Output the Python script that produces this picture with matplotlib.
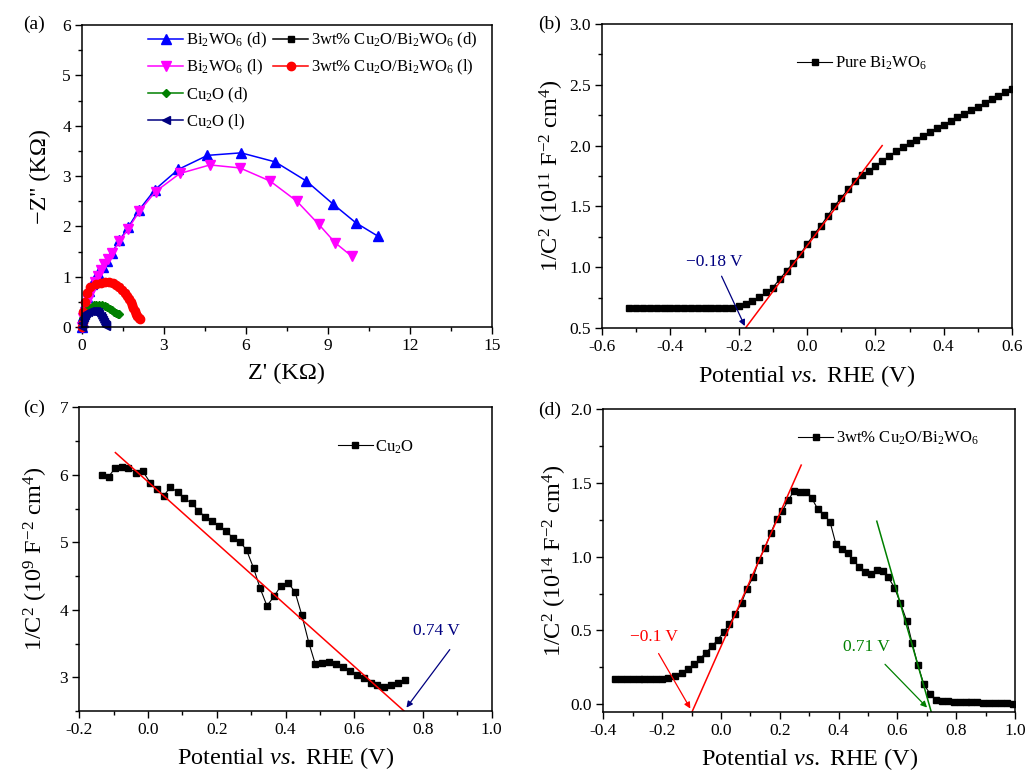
import matplotlib
matplotlib.use("Agg")
import matplotlib.pyplot as plt
from matplotlib.ticker import MultipleLocator

plt.rcParams['font.family'] = ['Liberation Serif', 'DejaVu Serif']
plt.rcParams['mathtext.fontset'] = 'custom'
plt.rcParams['mathtext.rm'] = 'Liberation Serif'
plt.rcParams['mathtext.it'] = 'Liberation Serif:italic'
plt.rcParams['mathtext.bf'] = 'Liberation Serif:bold'
plt.rcParams['axes.unicode_minus'] = False

# ---------------- (a) Nyquist data (kOhm) ----------------
bi_d_x = [0.0, 0.02, 0.05, 0.09, 0.14, 0.20, 0.27, 0.36, 0.47, 0.60, 0.75, 0.90, 1.10, 1.37, 1.69,
          2.08, 2.67, 3.52, 4.59, 5.82, 7.07, 8.21, 9.19, 10.02, 10.84]
bi_d_y = [0.0, 0.10, 0.22, 0.35, 0.48, 0.60, 0.72, 0.85, 0.97, 1.08, 1.20, 1.31, 1.48, 1.72, 1.98,
          2.32, 2.73, 3.13, 3.41, 3.46, 3.28, 2.90, 2.44, 2.07, 1.80]
bi_l_x = [0.0, 0.03, 0.10, 0.16, 0.22, 0.31, 0.39, 0.49, 0.59, 0.70, 0.82, 0.96, 1.10, 1.37, 1.69,
          2.10, 2.69, 3.58, 4.68, 5.78, 6.88, 7.86, 8.66, 9.27, 9.86]
bi_l_y = [0.0, 0.17, 0.30, 0.43, 0.54, 0.66, 0.78, 0.90, 1.01, 1.13, 1.25, 1.36, 1.47, 1.70, 1.95,
          2.30, 2.69, 3.05, 3.22, 3.16, 2.90, 2.50, 2.04, 1.67, 1.41]
cu_d_x = [0.0, 0.02, 0.05, 0.09, 0.14, 0.20, 0.27, 0.35, 0.44, 0.53, 0.63, 0.73, 0.83, 0.93, 1.02,
          1.10, 1.18, 1.25, 1.31, 1.37]
cu_d_y = [0.0, 0.10, 0.18, 0.26, 0.31, 0.34, 0.38, 0.40, 0.43, 0.44, 0.44, 0.43, 0.42, 0.39, 0.36,
          0.33, 0.30, 0.28, 0.26, 0.25]
cu_l_x = [0.0, 0.01, 0.03, 0.06, 0.10, 0.15, 0.21, 0.28, 0.35, 0.43, 0.50, 0.57, 0.63, 0.69, 0.74,
          0.78, 0.81, 0.84, 0.86, 0.87]
cu_l_y = [0.0, 0.08, 0.15, 0.20, 0.24, 0.27, 0.29, 0.31, 0.32, 0.32, 0.31, 0.29, 0.26, 0.22, 0.18,
          0.14, 0.10, 0.06, 0.03, 0.01]
cb_l_x = [0.0, 0.02, 0.05, 0.10, 0.18, 0.30, 0.50, 0.70, 0.85, 1.00, 1.12, 1.25, 1.37, 1.47, 1.56,
          1.65, 1.72, 1.78, 1.83, 1.88, 1.93, 1.98, 2.03, 2.08, 2.12]
cb_l_y = [0.0, 0.10, 0.30, 0.50, 0.68, 0.80, 0.86, 0.88, 0.89, 0.89, 0.87, 0.84, 0.79, 0.74, 0.68,
          0.62, 0.55, 0.49, 0.43, 0.37, 0.31, 0.26, 0.21, 0.18, 0.16]
cb_d_x = [0.0, 0.05, 0.18, 0.50, 0.85, 1.12, 1.37, 1.56, 1.72, 1.83, 1.93, 2.03, 2.10]
cb_d_y = [0.0, 0.30, 0.68, 0.86, 0.89, 0.87, 0.79, 0.68, 0.55, 0.43, 0.31, 0.21, 0.17]

# ---------------- (b) Pure Bi2WO6 Mott-Schottky ----------------
v_b = [-0.52, -0.50, -0.48, -0.46, -0.44, -0.42, -0.40, -0.38, -0.36, -0.34, -0.32, -0.30, -0.28,
       -0.26, -0.24, -0.22, -0.20, -0.18, -0.16, -0.14, -0.12, -0.10, -0.08, -0.06, -0.04, -0.02,
       0.00, 0.02, 0.04, 0.06, 0.08, 0.10, 0.12, 0.14, 0.16, 0.18, 0.20, 0.22, 0.24, 0.26, 0.28,
       0.30, 0.32, 0.34, 0.36, 0.38, 0.40, 0.42, 0.44, 0.46, 0.48, 0.50, 0.52, 0.54, 0.56, 0.58, 0.60]
c_b = [0.665, 0.665, 0.665, 0.665, 0.665, 0.665, 0.665, 0.665, 0.665, 0.665, 0.665, 0.665, 0.665,
       0.665, 0.665, 0.667, 0.678, 0.697, 0.724, 0.751, 0.792, 0.833, 0.902, 0.970, 1.038, 1.107,
       1.189, 1.270, 1.339, 1.420, 1.503, 1.571, 1.639, 1.708, 1.762, 1.790, 1.830, 1.871, 1.912,
       1.953, 1.989, 2.022, 2.049, 2.082, 2.109, 2.145, 2.172, 2.199, 2.235, 2.262, 2.289, 2.314,
       2.350, 2.383, 2.404, 2.437, 2.467]
fit_b_x = [-0.18, 0.22]
fit_b_y = [0.50, 2.00]

# ---------------- (c) Cu2O Mott-Schottky ----------------
v_c = [-0.135, -0.115, -0.096, -0.076, -0.057, -0.034, -0.015, 0.007, 0.026, 0.046, 0.065, 0.087,
       0.106, 0.127, 0.146, 0.166, 0.187, 0.206, 0.228, 0.247, 0.268, 0.287, 0.307, 0.326, 0.346,
       0.367, 0.387, 0.408, 0.428, 0.447, 0.468, 0.487, 0.507, 0.528, 0.548, 0.567, 0.587, 0.608,
       0.629, 0.648, 0.667, 0.687, 0.706, 0.726, 0.747]
c_c = [6.00, 5.97, 6.10, 6.11, 6.10, 6.03, 6.05, 5.88, 5.79, 5.69, 5.82, 5.74, 5.65, 5.58, 5.47,
       5.38, 5.32, 5.24, 5.17, 5.06, 5.01, 4.88, 4.62, 4.32, 4.06, 4.20, 4.36, 4.40, 4.26, 3.93,
       3.51, 3.19, 3.21, 3.22, 3.20, 3.15, 3.09, 3.04, 2.99, 2.92, 2.88, 2.86, 2.88, 2.91, 2.96]
fit_c_x = [-0.095, 0.745]
fit_c_y = [6.33, 2.50]

# ---------------- (d) 3wt% Cu2O/Bi2WO6 Mott-Schottky ----------------
v_d = [-0.36, -0.34, -0.32, -0.30, -0.28, -0.26, -0.24, -0.22, -0.20, -0.18, -0.155, -0.132,
       -0.112, -0.090, -0.070, -0.051, -0.030, -0.011, 0.010, 0.029, 0.049, 0.070, 0.089, 0.110,
       0.129, 0.150, 0.169, 0.189, 0.209, 0.229, 0.248, 0.269, 0.288, 0.309, 0.330, 0.351, 0.371,
       0.391, 0.411, 0.431, 0.450, 0.470, 0.491, 0.510, 0.531, 0.550, 0.569, 0.590, 0.610, 0.632,
       0.650, 0.670, 0.690, 0.712, 0.732, 0.752, 0.772, 0.792, 0.812, 0.832, 0.852, 0.872, 0.892,
       0.912, 0.932, 0.952, 0.972, 0.992]
c_d = [0.172, 0.172, 0.172, 0.172, 0.172, 0.172, 0.172, 0.172, 0.173, 0.176, 0.190, 0.215,
       0.242, 0.271, 0.310, 0.350, 0.393, 0.438, 0.490, 0.547, 0.610, 0.687, 0.784, 0.863,
       0.976, 1.062, 1.157, 1.252, 1.310, 1.383, 1.444, 1.440, 1.440, 1.395, 1.320, 1.281, 1.236,
       1.085, 1.055, 1.022, 0.976, 0.931, 0.897, 0.881, 0.908, 0.904, 0.859, 0.791, 0.687, 0.565,
       0.416, 0.264, 0.136, 0.068, 0.032, 0.025, 0.021, 0.019, 0.017, 0.016, 0.015, 0.013, 0.012,
       0.011, 0.009, 0.008, 0.007, 0.005]
fit_d1_x = [-0.098, 0.273]
fit_d1_y = [-0.05, 1.62]
fit_d2_x = [0.530, 0.715]
fit_d2_y = [1.24, -0.05]

W, H = 1028, 774
fig = plt.figure(figsize=(W / 100, H / 100), dpi=100)


def px_axes(l, t, r, b):
    return fig.add_axes([l / W, 1 - b / H, (r - l) / W, (b - t) / H])


def style(ax, xmaj, xmin, ymaj, ymin):
    ax.xaxis.set_major_locator(MultipleLocator(xmaj))
    ax.xaxis.set_minor_locator(MultipleLocator(xmin))
    ax.yaxis.set_major_locator(MultipleLocator(ymaj))
    ax.yaxis.set_minor_locator(MultipleLocator(ymin))
    ax.tick_params(which='both', direction='out', top=False, right=False, labelsize=12.5,
                   width=1.0, pad=3)
    ax.tick_params(which='major', length=5)
    ax.tick_params(which='minor', length=3)
    for s in ax.spines.values():
        s.set_linewidth(1.1)


def arrow(ax, start, end, color):
    ax.annotate("", xy=end, xytext=start,
                arrowprops=dict(arrowstyle='-|>', color=color, lw=0.9, mutation_scale=9,
                                shrinkA=0, shrinkB=0))


LABFS = 17.5
LEGFS = 12

# ---------- (a) ----------
axa = px_axes(82, 25, 492, 327)
lw = 1.1
kw = dict(lw=lw, clip_on=False)
h_cbd, = axa.plot(cb_d_x, cb_d_y, color='black', marker='s', ms=4, **kw)
h_bid, = axa.plot(bi_d_x, bi_d_y, color='#0000ff', marker='^', ms=6.5, **kw)
h_bil, = axa.plot(bi_l_x, bi_l_y, color='#ff00ff', marker='v', ms=6.5, **kw)
h_cud, = axa.plot(cu_d_x, cu_d_y, color='#008000', marker='D', ms=4.5, **kw)
h_cbl, = axa.plot(cb_l_x, cb_l_y, color='#ff0000', marker='o', ms=6, **kw)
h_cul, = axa.plot(cu_l_x, cu_l_y, color='#000080', marker='<', ms=6, **kw)
axa.set_xlim(0, 15)
axa.set_ylim(0, 6)
style(axa, 3, 1.5, 1, 0.5)
axa.set_xlabel("Z' (K\u03A9)", fontsize=LABFS, labelpad=6)
axa.set_ylabel("\u2212Z'' (K\u03A9)", fontsize=LABFS, labelpad=8)
legkw = dict(loc='upper left', frameon=False, fontsize=LEGFS, handlelength=2.1,
             handletextpad=0.15, borderpad=0, borderaxespad=0, labelspacing=0.48)
leg1 = axa.legend([h_bid, h_bil, h_cud, h_cul],
                  [r"Bi$_2$WO$_6$ (d)", r"Bi$_2$WO$_6$ (l)", r"Cu$_2$O (d)", r"Cu$_2$O (l)"],
                  bbox_to_anchor=(0.161, 0.98), **legkw)
axa.add_artist(leg1)
axa.legend([h_cbd, h_cbl],
           [r"3wt% Cu$_2$O/Bi$_2$WO$_6$ (d)", r"3wt% Cu$_2$O/Bi$_2$WO$_6$ (l)"],
           bbox_to_anchor=(0.466, 0.98), **legkw)

sleg = dict(loc='center left', frameon=False, fontsize=LEGFS, handlelength=2.1,
            handletextpad=0.15, borderpad=0, borderaxespad=0)

# ---------- (b) ----------
axb = px_axes(602, 24, 1012, 328)
hb, = axb.plot(v_b, c_b, color='black', marker='s', ms=5, lw=0.8)
axb.plot(fit_b_x, fit_b_y, color='red', lw=1.1)
axb.set_xlim(-0.6, 0.6)
axb.set_ylim(0.5, 3.0)
style(axb, 0.2, 0.1, 0.5, 0.25)
axb.set_xlabel(r"Potential $\mathit{vs.}$ RHE (V)", fontsize=LABFS, labelpad=6)
axb.set_ylabel(r"1/C$^2$ (10$^{11}$ F$^{-2}$ cm$^4$)", fontsize=LABFS, labelpad=2)
axb.text(-0.27, 1.04, "\u22120.18 V", color='#000080', fontsize=12.5, ha='center', va='center')
arrow(axb, (-0.25, 0.926), (-0.182, 0.516), '#000080')
axb.legend([hb], [r"Pure Bi$_2$WO$_6$"], bbox_to_anchor=(0.476, 0.87), **sleg)

# ---------- (c) ----------
axc = px_axes(79.3, 407.4, 491.7, 711)
hc, = axc.plot(v_c, c_c, color='black', marker='s', ms=5, lw=0.8)
axc.plot(fit_c_x, fit_c_y, color='red', lw=1.1)
axc.set_xlim(-0.2, 1.0)
axc.set_ylim(2.5, 7.0)
style(axc, 0.2, 0.1, 1, 0.5)
axc.set_xlabel(r"Potential $\mathit{vs.}$ RHE (V)", fontsize=LABFS, labelpad=5)
axc.set_ylabel(r"1/C$^2$ (10$^9$ F$^{-2}$ cm$^4$)", fontsize=LABFS, labelpad=7)
axc.text(0.84, 3.68, "0.74 V", color='#000080', fontsize=12.5, ha='center', va='center')
arrow(axc, (0.878, 3.41), (0.752, 2.55), '#000080')
axc.legend([hc], [r"Cu$_2$O"], bbox_to_anchor=(0.627, 0.87), **sleg)

# ---------- (d) ----------
axd = px_axes(603.3, 409, 1015, 711.7)
hd, = axd.plot(v_d, c_d, color='black', marker='s', ms=5, lw=0.8)
axd.plot(fit_d1_x, fit_d1_y, color='red', lw=1.1)
axd.plot(fit_d2_x, fit_d2_y, color='#008000', lw=1.1)
axd.set_xlim(-0.4, 1.0)
axd.set_ylim(-0.05, 2.0)
style(axd, 0.2, 0.1, 0.5, 0.25)
axd.set_xlabel(r"Potential $\mathit{vs.}$ RHE (V)", fontsize=LABFS, labelpad=5)
axd.set_ylabel(r"1/C$^2$ (10$^{14}$ F$^{-2}$ cm$^4$)", fontsize=LABFS, labelpad=1)
axd.text(-0.229, 0.456, "\u22120.1 V", color='red', fontsize=12.5, ha='center', va='center')
arrow(axd, (-0.212, 0.344), (-0.104, -0.029), 'red')
axd.text(0.493, 0.389, "0.71 V", color='#008000', fontsize=12.5, ha='center', va='center')
arrow(axd, (0.558, 0.271), (0.701, -0.022), '#008000')
axd.legend([hd], [r"3wt% Cu$_2$O/Bi$_2$WO$_6$"], bbox_to_anchor=(0.473, 0.904), **sleg)

# panel labels
fig.text(34 / W, 1 - 24 / H, "(a)", fontsize=14, ha='center', va='center')
fig.text(550 / W, 1 - 24 / H, "(b)", fontsize=14, ha='center', va='center')
fig.text(34 / W, 1 - 408 / H, "(c)", fontsize=14, ha='center', va='center')
fig.text(550 / W, 1 - 410 / H, "(d)", fontsize=14, ha='center', va='center')

fig.savefig("out.png", dpi=100)
